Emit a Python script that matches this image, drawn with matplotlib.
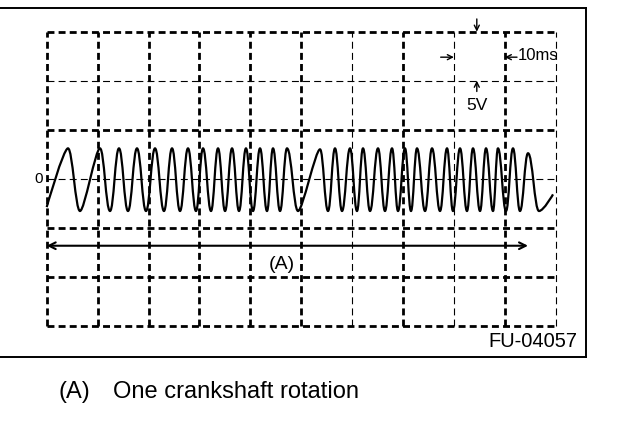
import matplotlib
matplotlib.use("Agg")
import matplotlib.pyplot as plt
from matplotlib.path import Path
from matplotlib.patches import PathPatch
from matplotlib.lines import Line2D

plt.rcParams["font.family"] = ["Liberation Sans", "DejaVu Sans"]
plt.rcParams["lines.scale_dashes"] = False

# Scope settings (10 x 6 divisions)
ms_per_div = 10
v_per_div = 5
n_xdiv = 10
n_ydiv = 6
thin_xdiv = [6, 8, 10]      # vertical grid lines drawn thin
thin_levels = [0, 10]       # horizontal grid lines drawn thin (V)

# Trace: turning points, time in ms, level in V
wave_t = [0.0, 4.18, 6.54, 10.47, 12.44, 14.20, 15.97, 17.74, 19.51, 21.28,
          23.04, 24.62, 26.19, 27.76, 29.33, 30.71, 32.28, 33.66, 35.04,
          36.41, 37.78, 39.15, 40.53, 41.91, 43.28, 44.46, 45.84, 47.21,
          49.38, 53.70, 55.27, 56.64, 58.02, 59.59, 60.96, 62.14, 63.52,
          65.09, 66.46, 67.84, 69.02, 70.39, 71.57, 72.75, 74.33, 75.70,
          77.27, 78.65, 79.82, 81.20, 82.57, 83.75, 85.13, 86.31, 87.68,
          88.66, 90.24, 91.61, 92.98, 94.56, 96.72, 99.47]
wave_v = [-2.9, 3.1, -3.3, 3.1, -3.3, 3.1, -3.3, 3.1, -3.3, 3.1,
          -3.3, 3.1, -3.3, 3.1, -3.3, 3.1, -3.3, 3.1, -3.3,
          3.1, -3.3, 3.1, -3.3, 3.1, -3.3, 3.1, -3.3, 3.1,
          -3.3, 3.0, -3.3, 3.1, -3.3, 3.1, -3.3, 3.1, -3.3,
          3.1, -3.3, 3.1, -3.3, 3.1, -3.3, 3.1, -3.3, 3.1,
          -3.3, 3.1, -3.3, 3.1, -3.3, 3.1, -3.3, 3.1, -3.3,
          3.1, -3.3, 3.1, -3.3, 2.6, -3.3, -1.6]

rotation_start = 0.0
rotation_end = 94.56
zero_label = "0"
time_label = "10ms"
volt_label = "5V"
span_label = "(A)"
figure_id = "FU-04057"
caption_key = "(A)"
caption_text = "One crankshaft rotation"

W, H = 624, 426
fig = plt.figure(figsize=(W / 100, H / 100), dpi=100)
ax = fig.add_axes([46.7 / W, 1 - 325.7 / H, 509 / W, 294 / H])
ax.set_xlim(0, n_xdiv * ms_per_div)
ax.set_ylim(-n_ydiv / 2 * v_per_div, n_ydiv / 2 * v_per_div)
ax.axis("off")

# Grid
dash = (0, (5, 3))
for i in range(n_xdiv + 1):
    lw = 0.8 if i in thin_xdiv else 2.0
    ax.axvline(i * ms_per_div, color="black", lw=lw, ls=dash, clip_on=False)
for j in range(n_ydiv + 1):
    y = (j - n_ydiv / 2) * v_per_div
    lw = 0.8 if y in thin_levels else 2.0
    ax.axhline(y, color="black", lw=lw, ls=dash, clip_on=False)

# Trace as smooth curve through the turning points
verts = [(wave_t[0], wave_v[0])]
codes = [Path.MOVETO]
last = len(wave_t) - 1
for k in range(last):
    x0, y0 = wave_t[k], wave_v[k]
    x1, y1 = wave_t[k + 1], wave_v[k + 1]
    h = min(0.42 * (x1 - x0), 0.9)
    c1 = (x0, y0) if k == 0 else (x0 + h, y0)
    c2 = (x1, y1) if k + 1 == last else (x1 - h, y1)
    verts += [c1, c2, (x1, y1)]
    codes += [Path.CURVE4] * 3
ax.add_patch(PathPatch(Path(verts, codes), fill=False, lw=1.6,
                       ec="black", joinstyle="round", clip_on=False))

ax.text(-1.6, 0, zero_label, ha="center", va="center", fontsize=11)

# One rotation span
ax.annotate("", xy=(rotation_start, -6.84), xytext=(rotation_end, -6.84),
            arrowprops=dict(arrowstyle="<->", lw=1.5, color="black",
                            shrinkA=0, shrinkB=0, mutation_scale=12),
            annotation_clip=False)
ax.text(46.2, -9.2, span_label, ha="center", va="baseline", fontsize=14)

# Scale markers
small = dict(arrowstyle="->", lw=1.0, color="black", shrinkA=0, shrinkB=0,
             mutation_scale=9)
ax.annotate("", xy=(84.5, 15.0), xytext=(84.5, 16.3), arrowprops=small,
            annotation_clip=False)
ax.annotate("", xy=(84.5, 10.0), xytext=(84.5, 8.9), arrowprops=small,
            annotation_clip=False)
ax.annotate("", xy=(80.0, 12.4), xytext=(77.4, 12.4), arrowprops=small,
            annotation_clip=False)
ax.annotate("", xy=(90.0, 12.4), xytext=(92.4, 12.4), arrowprops=small,
            annotation_clip=False)
ax.text(92.6, 12.1, time_label, ha="left", va="baseline", fontsize=12)
ax.text(84.5, 7.0, volt_label, ha="center", va="baseline", fontsize=12.5)

# Outer frame
fx = 586 / W
ft = 1 - 8 / H
fb = 1 - 357 / H
for xs, ys in [([0, fx], [ft, ft]), ([0, fx], [fb, fb]), ([fx, fx], [fb, ft])]:
    fig.add_artist(Line2D(xs, ys, transform=fig.transFigure, color="black",
                          lw=1.4))

fig.text(577 / W, 1 - 347 / H, figure_id, ha="right", va="baseline",
         fontsize=14.5)
fig.text(58 / W, 1 - 398 / H, caption_key, ha="left", va="baseline",
         fontsize=17)
fig.text(113 / W, 1 - 398 / H, caption_text, ha="left", va="baseline",
         fontsize=17)

fig.savefig("out.png", dpi=100)
